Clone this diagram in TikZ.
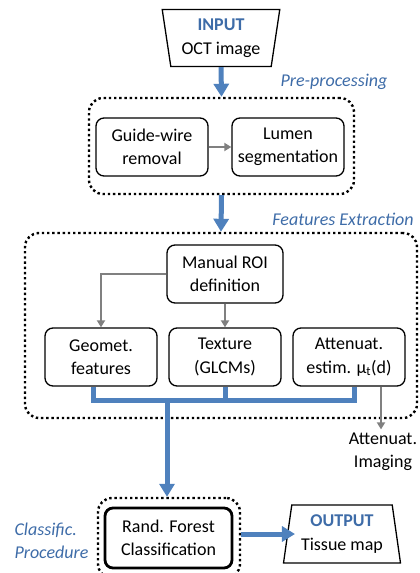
\documentclass[tikz,border=0pt]{standalone}
\usepackage{fontspec}
\setmainfont{Carlito}
\usepackage{xcolor}
\usetikzlibrary{positioning,arrows.meta,shapes.geometric,calc}

\definecolor{flowblue}{RGB}{79,129,189}
\definecolor{labelblue}{RGB}{62,108,168}
\definecolor{linkgray}{RGB}{128,128,128}

\tikzset{
  txt/.style={font=\fontsize{18}{23.5}\selectfont, align=center},
  stage/.style={txt, draw, line width=1.3pt, rounded corners=8pt,
    minimum width=112pt, minimum height=58pt, inner sep=0pt},
  group/.style={draw, line width=2.4pt, dash pattern=on 2.4pt off 2.8pt,
    rounded corners=14pt, inner sep=0pt},
  io/.style={txt, draw, line width=1.3pt, trapezium, trapezium stretches=true,
    inner sep=0pt},
  tag/.style={txt, text=labelblue, font=\fontsize{18}{23.5}\selectfont\itshape},
  bluearrow/.style={flowblue, line width=5pt, -{Triangle[width=15pt,length=13pt]}},
  blueline/.style={flowblue, line width=5pt, line join=miter},
  grayarrow/.style={linkgray, line width=2.6pt, -{Triangle[width=8pt,length=7pt]}},
}

\begin{document}
\begin{tikzpicture}[x=1pt, y=-1pt]
  \useasboundingbox (0,0) rectangle (420,573);

  % --- input ---
  \node[io, shape border rotate=180, trapezium left angle=80, trapezium right angle=80,
    minimum width=118pt, minimum height=57pt] (inp) at (221,38)
    {\textcolor{labelblue}{\textbf{INPUT}}\\OCT image};

  % --- pre-processing ---
  \node[group, minimum width=265pt, minimum height=96pt] (pre) at (221.5,146) {};
  \node[tag] at (334,82) {Pre-processing};
  \node[stage] (guide) at (152,147) {Guide-wire\\removal};
  \node[stage] (lumen) at (288,147) {Lumen\\segmentation};

  % --- features extraction ---
  \node[group, minimum width=392pt, minimum height=185pt] (feat) at (221,325.5) {};
  \node[tag] at (343,219) {Features Extraction};
  \node[stage, minimum width=116pt] (roi) at (225,274) {Manual ROI\\definition};
  \node[stage] (geo) at (101,357) {Geomet.\\features};
  \node[stage] (tex) at (225,357) {Texture\\(GLCMs)};
  \node[stage] (att) at (349,357) {Attenuat.\\estim. μ\textsubscript{t}(d)};
  \node[txt] (attimg) at (383,452) {Attenuat.\\Imaging};

  % --- classification ---
  \node[group, minimum width=142pt, minimum height=80pt] (cls) at (169,538) {};
  \node[stage, line width=2.8pt, minimum width=127pt, minimum height=60pt] (rf) at (168.5,538)
    {Rand. Forest\\Classification};
  \node[tag, align=left, anchor=west] at (11,541) {Classific.\\Procedure};

  % --- output ---
  \node[io, trapezium left angle=80, trapezium right angle=80,
    minimum width=118pt, minimum height=58pt] (out) at (342,534)
    {\textcolor{labelblue}{\textbf{OUTPUT}}\\Tissue map};

  % --- connectors ---
  \coordinate (bus) at (167,400);
  \draw[bluearrow] (inp.south) -- (pre.north);
  \draw[bluearrow] (pre.south) -- (feat.north);
  \draw[grayarrow] (guide.east) -- (lumen.west);
  \draw[grayarrow] (roi.west) -| (geo.north);
  \draw[grayarrow] (roi.south) -- (tex.north);
  \draw[blueline] ([xshift=-8pt]geo.south) |- (bus) -| ([xshift=5pt]att.south);
  \draw[blueline] (tex.south) -- (tex.south |- bus);
  \draw[bluearrow] ([yshift=-2.5pt]bus) -- (bus |- cls.north);
  \draw[grayarrow] ([xshift=32pt]att.south) -- ([xshift=32pt]att.south |- attimg.north);
  \draw[bluearrow] (cls.east |- out.west) -- ([xshift=8pt]out.west);
\end{tikzpicture}
\end{document}
